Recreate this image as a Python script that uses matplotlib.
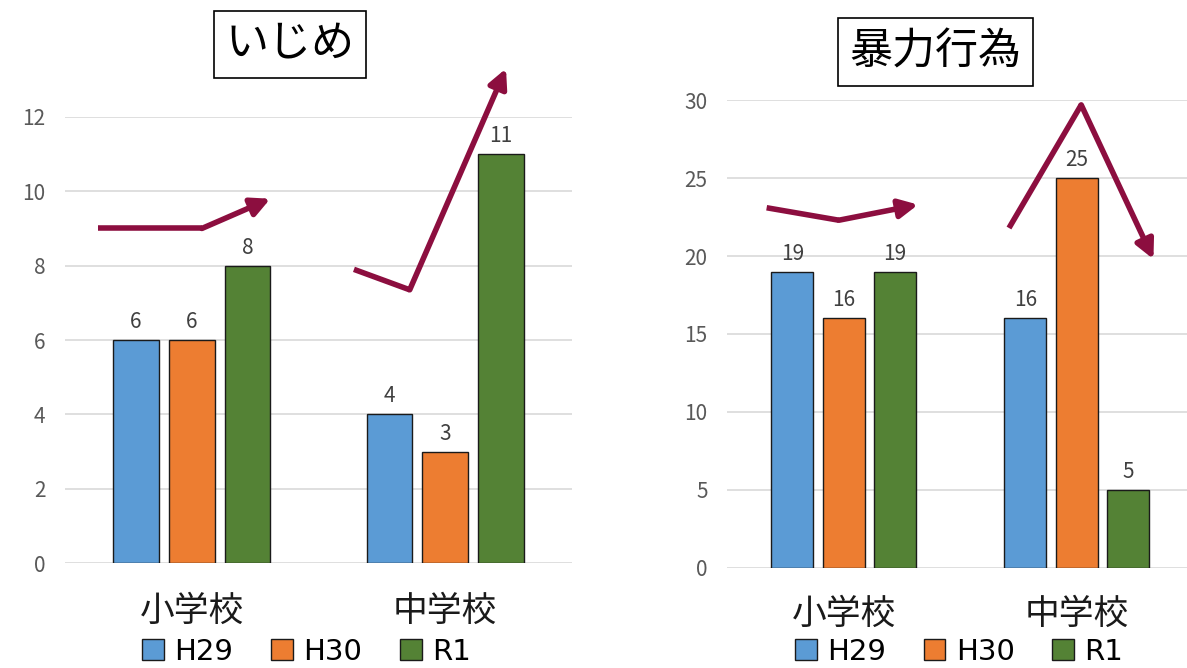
import numpy as np
import matplotlib
matplotlib.use("Agg")
import matplotlib.pyplot as plt

plt.rcParams["font.family"] = ["Noto Sans CJK JP", "DejaVu Sans"]

# data
schools = ["小学校", "中学校"]
years = ["H29", "H30", "R1"]
ijime = {"H29": [6, 4], "H30": [6, 3], "R1": [8, 11]}
boryoku = {"H29": [19, 16], "H30": [16, 25], "R1": [19, 5]}

# hand-drawn trend arrows, in data coordinates (x = category index)
ijime_arrows = [
    [(-0.37, 9.0), (0.04, 9.0), (0.31, 9.8)],
    [(0.64, 7.9), (0.86, 7.35), (1.24, 13.3)],
]
boryoku_arrows = [
    [(-0.33, 23.1), (-0.02, 22.3), (0.32, 23.3)],
    [(0.71, 21.8), (1.02, 29.7), (1.33, 19.8)],
]

COLORS = {"H29": "#5B9BD5", "H30": "#ED7D31", "R1": "#548235"}
ARROW = "#8C0E3F"


def draw_panel(ax, data, ymax, step, arrows, title, title_xy, legend_xy, xpad):
    x = np.arange(len(schools))
    offsets = {"H29": -0.22, "H30": 0.0, "R1": 0.22}
    for yr in years:
        bars = ax.bar(x + offsets[yr], data[yr], width=0.18, color=COLORS[yr],
                      edgecolor="#1a1a1a", linewidth=1.0, label=yr, zorder=3)
        ax.bar_label(bars, padding=5, fontsize=15, color="#404040")
    ax.set_xlim(-0.5, 1.5)
    ax.set_ylim(0, ymax)
    ax.set_yticks(np.arange(0, ymax + 1, step))
    ax.yaxis.grid(True, color="#D9D9D9", lw=1.2, zorder=0)
    ax.set_axisbelow(True)
    for s in ax.spines.values():
        s.set_visible(False)
    ax.tick_params(axis="y", length=0, pad=14, labelsize=15, labelcolor="#595959")
    ax.set_xticks(x)
    ax.set_xticklabels(schools, fontsize=25, color="#1a1a1a")
    ax.tick_params(axis="x", length=0, pad=xpad)

    for pts in arrows:
        xs, ys = zip(*pts)
        ax.plot(xs[:-1], ys[:-1], color=ARROW, lw=4, solid_joinstyle="miter",
                solid_capstyle="butt", clip_on=False, zorder=5)
        ax.annotate("", xy=pts[-1], xytext=pts[-2], annotation_clip=False,
                    arrowprops=dict(arrowstyle="-|>", color=ARROW, lw=4,
                                    mutation_scale=28, shrinkA=0, shrinkB=0),
                    zorder=5)

    fig.text(title_xy[0], title_xy[1], title, fontsize=31, ha="center", va="center",
             bbox=dict(boxstyle="square,pad=0.27", fc="white", ec="black", lw=1.2))
    ax.legend(loc="center", bbox_to_anchor=legend_xy, bbox_transform=fig.transFigure,
              ncol=3, frameon=False, prop={"family": "DejaVu Sans", "size": 21},
              handlelength=0.75, handleheight=0.75, handletextpad=0.35,
              columnspacing=1.3, borderaxespad=0)


fig = plt.figure(figsize=(11.87, 6.68), dpi=100)
ax1 = fig.add_axes([0.0548, 0.157, 0.427, 0.668])
ax2 = fig.add_axes([0.6125, 0.150, 0.3926, 0.700])

draw_panel(ax1, ijime, 12, 2, ijime_arrows, "いじめ", (0.244, 0.933), (0.258, 0.024), 22)
draw_panel(ax2, boryoku, 30, 5, boryoku_arrows, "暴力行為", (0.788, 0.922), (0.808, 0.024), 21)

fig.savefig("out.png", dpi=100)
